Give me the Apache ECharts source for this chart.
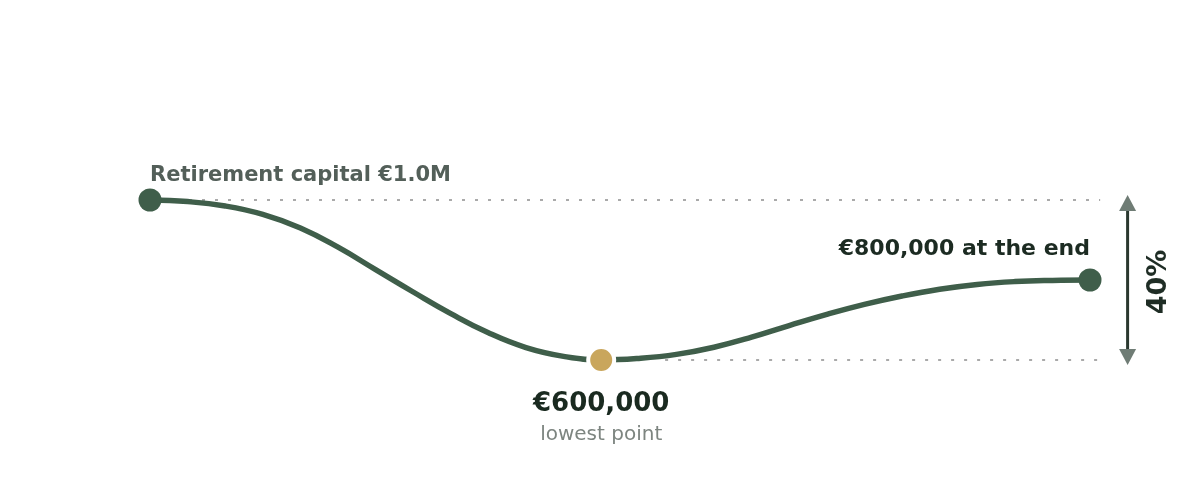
<!DOCTYPE html>
<html>
<head>
<meta charset="utf-8">
<title>Retirement capital</title>
<script src="https://cdn.jsdelivr.net/npm/echarts@6/dist/echarts.min.js"></script>
<style>
html, body { margin: 0; padding: 0; background: #fff; }
#chart { width: 1200px; height: 500px; }
</style>
</head>
<body>
<div id="chart"></div>
<script>
// years after retirement
var years = [0, 1, 2, 3, 4, 5, 6, 7, 8, 9, 10, 11, 12, 13, 14, 15, 16, 17, 18, 19, 20, 21, 22, 23, 24, 25];
// capital in euro
var capital = [1000000, 996000, 985000, 964000, 930000, 882000, 826000, 770000, 716000, 668000, 631000, 609000,
    600000, 604000, 614000, 632000, 657000, 686000, 714000, 739000, 760000, 777000, 789000, 796000, 799000, 800000];

var startText = 'Retirement capital';
var lowText = 'lowest point';
var endText = 'at the end';

var green = '#3f5e4a';
var gold = '#c9a65c';
var font = '"DejaVu Sans", sans-serif';

var iStart = 0;
var iEnd = capital.length - 1;
var iLow = capital.indexOf(Math.min.apply(null, capital));
var drop = Math.round((capital[iStart] - capital[iLow]) / capital[iStart] * 100);

function euro(v) {
    return '€' + v.toLocaleString('en-US');
}

var curve = years.map(function (y, i) { return [y, capital[i]]; });

var series = [];

// dotted guides, drawn under the curve (the series line itself is invisible)
series.push({
    type: 'line',
    data: curve,
    z: 1,
    silent: true,
    showSymbol: false,
    lineStyle: { opacity: 0 },
    markLine: {
        z: 1,
        silent: true,
        animation: false,
        symbol: 'none',
        label: { show: false },
        lineStyle: { color: '#aaaaaa', width: 2, type: [3, 10], opacity: 1 },
        emphasis: { disabled: true },
        data: [
            [{ coord: [years[iStart], capital[iStart]] }, { coord: [25.27, capital[iStart]] }],
            [{ coord: [13.7, capital[iLow]] }, { coord: [25.27, capital[iLow]] }]
        ]
    }
});

series.push({
    type: 'line',
    z: 2,
    smooth: 0.45,
    showSymbol: false,
    silent: true,
    lineStyle: { color: green, width: 5.5 },
    data: curve
});

series.push({
    type: 'scatter',
    z: 3,
    silent: true,
    itemStyle: { opacity: 1 },
    data: [{
        value: [years[iStart], capital[iStart]],
        symbolSize: 23,
        itemStyle: { color: green, opacity: 1 },
        label: {
            show: true,
            position: 'inside',
            align: 'left',
            verticalAlign: 'middle',
            offset: [0, -24],
            formatter: startText + ' €' + (capital[iStart] / 1e6).toFixed(1) + 'M',
            fontFamily: font,
            fontSize: 21,
            fontWeight: 'bold',
            color: '#535f59',
            opacity: 1,
            textBorderWidth: 0
        }
    }, {
        value: [years[iLow], capital[iLow]],
        symbolSize: 26,
        itemStyle: { color: gold, borderColor: '#ffffff', borderWidth: 4, opacity: 1 },
        label: {
            show: true,
            position: 'inside',
            align: 'center',
            verticalAlign: 'top',
            offset: [0, 28.5],
            formatter: '{a|' + euro(capital[iLow]) + '}\n{b|' + lowText + '}',
            opacity: 1,
            textBorderWidth: 0,
            rich: {
                a: { fontFamily: font, fontSize: 26, fontWeight: 'bold', color: '#1a2a20', lineHeight: 32, align: 'center' },
                b: { fontFamily: font, fontSize: 20, color: '#7d8580', lineHeight: 28, align: 'center' }
            }
        }
    }, {
        value: [years[iEnd], capital[iEnd]],
        symbolSize: 23,
        itemStyle: { color: green, opacity: 1 },
        label: {
            show: true,
            position: 'inside',
            align: 'right',
            verticalAlign: 'middle',
            offset: [0, -31],
            formatter: euro(capital[iEnd]) + ' ' + endText,
            fontFamily: font,
            fontSize: 22,
            fontWeight: 'bold',
            color: '#1c2b22',
            opacity: 1,
            textBorderWidth: 0
        }
    }]
});

// double arrow with the drop in percent
series.push({
    type: 'custom',
    z: 3,
    silent: true,
    clip: false,
    data: [[26, capital[iStart], capital[iLow]]],
    renderItem: function (params, api) {
        var top = api.coord([api.value(0), api.value(1)]);
        var bot = api.coord([api.value(0), api.value(2)]);
        var x = top[0];
        return {
            type: 'group',
            children: [{
                type: 'line',
                shape: { x1: x, y1: top[1] + 10, x2: x, y2: bot[1] - 10 },
                style: { stroke: '#2a382f', lineWidth: 3 }
            }, {
                type: 'polygon',
                shape: { points: [[x, top[1] - 5], [x - 8.5, top[1] + 11], [x + 8.5, top[1] + 11]] },
                style: { fill: '#6f7c75' }
            }, {
                type: 'polygon',
                shape: { points: [[x, bot[1] + 5], [x - 8.5, bot[1] - 11], [x + 8.5, bot[1] - 11]] },
                style: { fill: '#6f7c75' }
            }, {
                type: 'text',
                x: x + 31,
                y: (top[1] + bot[1]) / 2 + 2,
                rotation: Math.PI / 2,
                style: {
                    text: drop + '%',
                    font: 'bold 27px ' + font,
                    fill: '#1f2d25',
                    align: 'center',
                    verticalAlign: 'middle'
                }
            }]
        };
    }
});

var option = {
    backgroundColor: '#ffffff',
    animation: false,
    // x runs one year past the curve so the guides and the arrow fit inside the grid
    grid: { left: 150, right: 72.4, top: 0, bottom: 100 },
    xAxis: { type: 'value', min: 0, max: 26, show: false },
    yAxis: { type: 'value', min: 500000, max: 1500000, show: false },
    series: series
};

var myChart = echarts.init(document.getElementById('chart'));
myChart.setOption(option);
</script>
</body>
</html>
